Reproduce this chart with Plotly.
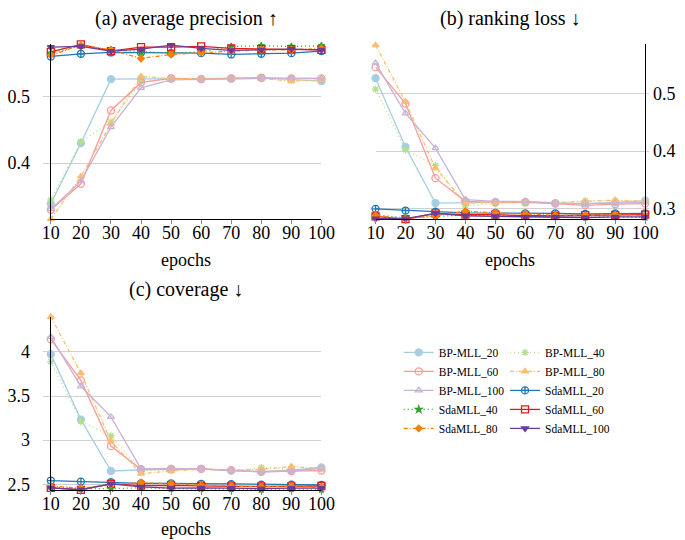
import plotly.graph_objects as go

epochs = [10, 20, 30, 40, 50, 60, 70, 80, 90, 100]
series_names = ["BP-MLL_20", "BP-MLL_40", "BP-MLL_60", "BP-MLL_80", "BP-MLL_100",
                "SdaMLL_20", "SdaMLL_40", "SdaMLL_60", "SdaMLL_80", "SdaMLL_100"]

# (a) average precision
ap_bp20 = [0.339, 0.430, 0.526, 0.526, 0.527, 0.526, 0.527, 0.528, 0.526, 0.523]
ap_bp40 = [0.345, 0.432, 0.462, 0.522, 0.526, 0.527, 0.527, 0.527, 0.524, 0.525]
ap_bp60 = [0.330, 0.369, 0.479, 0.521, 0.527, 0.526, 0.527, 0.528, 0.527, 0.527]
ap_bp80 = [0.316, 0.380, 0.459, 0.530, 0.527, 0.527, 0.527, 0.527, 0.523, 0.525]
ap_bp100 = [0.331, 0.373, 0.454, 0.513, 0.525, 0.526, 0.526, 0.527, 0.527, 0.527]
ap_sda20 = [0.560, 0.564, 0.566, 0.566, 0.565, 0.565, 0.563, 0.564, 0.565, 0.568]
ap_sda40 = [0.565, 0.576, 0.570, 0.567, 0.565, 0.567, 0.575, 0.576, 0.575, 0.576]
ap_sda60 = [0.567, 0.578, 0.568, 0.574, 0.574, 0.575, 0.572, 0.571, 0.571, 0.570]
ap_sda80 = [0.562, 0.577, 0.570, 0.557, 0.563, 0.566, 0.568, 0.570, 0.570, 0.572]
ap_sda100 = [0.574, 0.575, 0.568, 0.571, 0.577, 0.572, 0.569, 0.570, 0.571, 0.570]

# (b) ranking loss
rl_bp20 = [0.526, 0.407, 0.310, 0.311, 0.312, 0.312, 0.310, 0.309, 0.311, 0.314]
rl_bp40 = [0.507, 0.402, 0.375, 0.305, 0.309, 0.311, 0.310, 0.314, 0.314, 0.313]
rl_bp60 = [0.545, 0.482, 0.353, 0.313, 0.311, 0.311, 0.309, 0.306, 0.308, 0.309]
rl_bp80 = [0.583, 0.485, 0.370, 0.310, 0.311, 0.312, 0.311, 0.313, 0.315, 0.313]
rl_bp100 = [0.552, 0.465, 0.405, 0.316, 0.313, 0.313, 0.310, 0.309, 0.310, 0.311]
rl_sda20 = [0.300, 0.297, 0.295, 0.293, 0.293, 0.292, 0.292, 0.291, 0.292, 0.292]
rl_sda40 = [0.290, 0.284, 0.287, 0.289, 0.288, 0.287, 0.286, 0.285, 0.286, 0.285]
rl_sda60 = [0.287, 0.282, 0.292, 0.290, 0.290, 0.288, 0.288, 0.289, 0.289, 0.290]
rl_sda80 = [0.288, 0.283, 0.288, 0.296, 0.293, 0.291, 0.289, 0.289, 0.290, 0.288]
rl_sda100 = [0.283, 0.283, 0.292, 0.288, 0.287, 0.286, 0.286, 0.285, 0.286, 0.286]

# (c) coverage
cv_bp20 = [3.974, 3.233, 2.650, 2.665, 2.675, 2.675, 2.655, 2.645, 2.660, 2.690]
cv_bp40 = [3.890, 3.210, 3.050, 2.650, 2.660, 2.670, 2.650, 2.690, 2.670, 2.670]
cv_bp60 = [4.143, 3.677, 2.932, 2.670, 2.670, 2.675, 2.660, 2.640, 2.650, 2.655]
cv_bp80 = [4.398, 3.760, 2.989, 2.620, 2.650, 2.670, 2.660, 2.670, 2.700, 2.680]
cv_bp100 = [4.170, 3.610, 3.264, 2.675, 2.680, 2.675, 2.655, 2.640, 2.650, 2.680]
cv_sda20 = [2.542, 2.530, 2.523, 2.510, 2.510, 2.505, 2.500, 2.495, 2.495, 2.493]
cv_sda40 = [2.470, 2.450, 2.450, 2.460, 2.450, 2.450, 2.445, 2.440, 2.445, 2.440]
cv_sda60 = [2.459, 2.436, 2.504, 2.485, 2.487, 2.480, 2.475, 2.475, 2.475, 2.480]
cv_sda80 = [2.480, 2.455, 2.495, 2.520, 2.505, 2.490, 2.480, 2.470, 2.475, 2.465]
cv_sda100 = [2.460, 2.440, 2.505, 2.470, 2.455, 2.460, 2.455, 2.450, 2.455, 2.455]

ap_series = [ap_bp20, ap_bp40, ap_bp60, ap_bp80, ap_bp100, ap_sda20, ap_sda40, ap_sda60, ap_sda80, ap_sda100]
rl_series = [rl_bp20, rl_bp40, rl_bp60, rl_bp80, rl_bp100, rl_sda20, rl_sda40, rl_sda60, rl_sda80, rl_sda100]
cv_series = [cv_bp20, cv_bp40, cv_bp60, cv_bp80, cv_bp100, cv_sda20, cv_sda40, cv_sda60, cv_sda80, cv_sda100]

colors = ["#a6cee3", "#b2df8a", "#fb9a99", "#fdbf6f", "#cab2d6",
          "#1f78b4", "#33a02c", "#e31a1c", "#ff7f00", "#6a3d9a"]
dashes = ["solid", "1px,3px", "solid", "4px,2px,1px,2px", "solid",
          "solid", "1px,3px", "solid", "4px,2px,1px,2px", "solid"]
symbols = ["circle", "asterisk-open", "circle-open", "triangle-up", "triangle-up-open",
           "circle-cross-open", "star", "square-open", "diamond", "triangle-down"]
sizes = [7, 6, 7, 6, 6, 7, 5, 7, 5, 6]
legend_of = ["legend", "legend2", "legend", "legend2", "legend",
             "legend2", "legend", "legend2", "legend", "legend2"]

FONT = "Liberation Serif"

fig = go.Figure()
panels = [(ap_series, "x", "y"), (rl_series, "x2", "y2"), (cv_series, "x3", "y3")]
for p, (data, xa, ya) in enumerate(panels):
    for i, name in enumerate(series_names):
        fig.add_trace(go.Scatter(
            x=epochs, y=data[i], name=name, mode="lines+markers",
            xaxis=xa, yaxis=ya, cliponaxis=False,
            line=dict(color=colors[i], width=1.3, dash=dashes[i]),
            marker=dict(symbol=symbols[i], size=sizes[i], color=colors[i],
                        line=dict(color=colors[i], width=1.3)),
            legendgroup=name, showlegend=(p == 0), legend=legend_of[i],
        ))

W, H = 685, 540
def px_x(a, b):
    return [a / W, b / W]
def px_y(top, bottom):
    return [1 - bottom / H, 1 - top / H]

xcommon = dict(range=[10, 100], tickvals=epochs, ticks="outside", ticklen=4,
               tickcolor="#888888", showline=True, linecolor="black", linewidth=1.2,
               showgrid=False, zeroline=False, ticklabelstandoff=-7,
               tickfont=dict(family=FONT, size=18, color="black"))
ycommon = dict(showline=True, linecolor="black", linewidth=1.2, showgrid=True,
               gridcolor="#d0d0d0", gridwidth=1, zeroline=False, ticks="outside",
               tickcolor="#d0d0d0", tickfont=dict(family=FONT, size=18, color="black"))

fig.update_layout(
    width=W, height=H, autosize=False,
    margin=dict(l=0, r=0, t=0, b=0),
    paper_bgcolor="white", plot_bgcolor="white",
    font=dict(family=FONT, color="black"),
    xaxis=dict(domain=px_x(35, 315), anchor="y", **xcommon),
    yaxis=dict(domain=px_y(36.8, 213.1), anchor="x", range=[0.316, 0.578],
               tickvals=[0.4, 0.5], ticktext=["0.4", "0.5"], ticklen=7,
               ticklabelstandoff=9, **ycommon),
    xaxis2=dict(domain=px_x(371, 650), anchor="y2", **xcommon),
    yaxis2=dict(domain=px_y(36.4, 213.2), anchor="x2", range=[0.282, 0.585], side="right",
                tickvals=[0.3, 0.4, 0.5], ticktext=["0.3", "0.4", "0.5"], ticklen=3, **ycommon),
    xaxis3=dict(domain=px_x(35, 315), anchor="y3", **xcommon),
    yaxis3=dict(domain=px_y(311.5, 486.4), anchor="x3", range=[2.436, 4.40],
                tickvals=[2.5, 3, 3.5, 4], ticktext=["2.5", "3", "3.5", "4"], ticklen=7,
                ticklabelstandoff=9, **ycommon),
    legend=dict(x=395 / W, y=1 - 333 / H, xanchor="left", yanchor="top",
                orientation="v", itemwidth=30, bgcolor="rgba(0,0,0,0)",
                font=dict(family=FONT, size=11.5, color="black"), tracegroupgap=0),
    legend2=dict(x=505 / W, y=1 - 333 / H, xanchor="left", yanchor="top",
                 orientation="v", itemwidth=30, bgcolor="rgba(0,0,0,0)",
                 font=dict(family=FONT, size=11.5, color="black"), tracegroupgap=0),
)

annots = [
    ("(a) average precision ↑", 175, 11, 20),
    ("(b) ranking loss ↓", 510.5, 11, 20),
    ("(c) coverage ↓", 175, 284, 20),
    ("epochs", 175, 254, 18),
    ("epochs", 510.5, 254, 18),
    ("epochs", 175, 526, 18),
]
for text, cx, cy, fs in annots:
    fig.add_annotation(text=text, x=cx / W, y=1 - cy / H, xref="paper", yref="paper",
                       xanchor="center", yanchor="middle", showarrow=False,
                       font=dict(family=FONT, size=fs, color="black"))

fig.write_html("out.html")
